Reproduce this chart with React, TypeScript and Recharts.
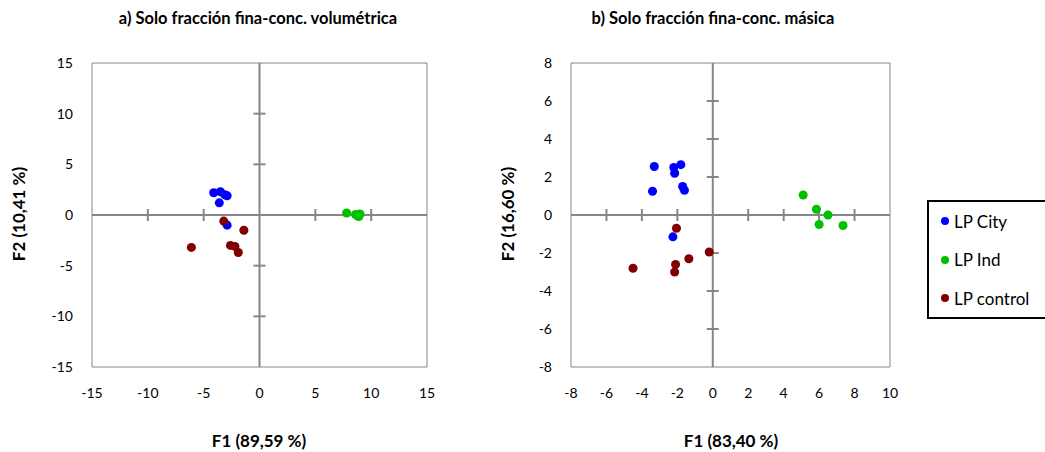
import {
  ReferenceArea,
  ReferenceLine,
  Scatter,
  ScatterChart,
  XAxis,
  YAxis,
  ZAxis,
} from 'recharts'

const FONT = 'Lato, "Liberation Sans", sans-serif'
const AXIS = '#868686'
const COLORS = { city: '#0000ff', ind: '#00c000', control: '#800000' }

// a) volumetric concentration
const cityVol = [
  { x: -4.1, y: 2.2 },
  { x: -3.5, y: 2.3 },
  { x: -3.1, y: 2.0 },
  { x: -2.9, y: 1.9 },
  { x: -3.6, y: 1.2 },
  { x: -2.9, y: -1.0 },
]
const indVol = [
  { x: 7.8, y: 0.2 },
  { x: 8.6, y: 0.05 },
  { x: 8.8, y: -0.1 },
  { x: 9.0, y: 0.1 },
  { x: 8.9, y: -0.15 },
]
const controlVol = [
  { x: -3.2, y: -0.6 },
  { x: -1.4, y: -1.5 },
  { x: -6.1, y: -3.2 },
  { x: -2.6, y: -3.0 },
  { x: -2.2, y: -3.1 },
  { x: -1.9, y: -3.7 },
]

// b) mass concentration
const cityMass = [
  { x: -3.3, y: 2.55 },
  { x: -2.2, y: 2.5 },
  { x: -1.8, y: 2.65 },
  { x: -2.15, y: 2.2 },
  { x: -3.4, y: 1.25 },
  { x: -1.7, y: 1.5 },
  { x: -1.6, y: 1.3 },
  { x: -2.25, y: -1.15 },
]
const indMass = [
  { x: 5.1, y: 1.05 },
  { x: 5.85, y: 0.3 },
  { x: 6.5, y: 0.0 },
  { x: 6.0, y: -0.5 },
  { x: 7.35, y: -0.55 },
]
const controlMass = [
  { x: -2.05, y: -0.7 },
  { x: -0.2, y: -1.95 },
  { x: -1.35, y: -2.3 },
  { x: -4.5, y: -2.8 },
  { x: -2.1, y: -2.6 },
  { x: -2.15, y: -3.0 },
]

const ticksVol = [-15, -10, -5, 0, 5, 10, 15]
const ticksMassX = [-8, -6, -4, -2, 0, 2, 4, 6, 8, 10]
const ticksMassY = [-8, -6, -4, -2, 0, 2, 4, 6, 8]

const legendItems = [
  { label: 'LP City', color: COLORS.city },
  { label: 'LP Ind', color: COLORS.ind },
  { label: 'LP control', color: COLORS.control },
]

const VTick = (p: any) => (
  <line x1={p.cx} x2={p.cx} y1={p.cy - 6} y2={p.cy + 6} stroke={AXIS} strokeWidth={2} />
)
const HTick = (p: any) => (
  <line x1={p.cx - 6} x2={p.cx + 6} y1={p.cy} y2={p.cy} stroke={AXIS} strokeWidth={2} />
)

function Panel(props: {
  left: number
  width: number
  marginLeft: number
  marginRight: number
  xTicks: number[]
  yTicks: number[]
  city: { x: number; y: number }[]
  ind: { x: number; y: number }[]
  control: { x: number; y: number }[]
}) {
  const { xTicks, yTicks } = props
  const xDom = [xTicks[0], xTicks[xTicks.length - 1]]
  const yDom = [yTicks[0], yTicks[yTicks.length - 1]]
  const xMarks = xTicks.filter((t, i) => t !== 0 && i > 0 && i < xTicks.length - 1).map((t) => ({ x: t, y: 0 }))
  const yMarks = yTicks.filter((t, i) => t !== 0 && i > 0 && i < yTicks.length - 1).map((t) => ({ x: 0, y: t }))
  const tick = { fill: '#000', fontSize: 14, fontFamily: FONT }
  return (
    <div style={{ position: 'absolute', left: props.left, top: 0 }}>
      <ScatterChart
        width={props.width}
        height={452}
        margin={{ top: 63, right: props.marginRight, bottom: 0, left: props.marginLeft }}
      >
        <XAxis
          type="number"
          dataKey="x"
          domain={xDom}
          ticks={xTicks}
          interval={0}
          axisLine={false}
          tickLine={false}
          tickSize={0}
          tickMargin={21}
          height={85}
          tick={tick}
        />
        <YAxis
          type="number"
          dataKey="y"
          domain={yDom}
          ticks={yTicks}
          interval={0}
          axisLine={false}
          tickLine={false}
          tickSize={0}
          tickMargin={19}
          width={80}
          tick={tick}
        />
        <ZAxis range={[64, 64]} />
        <ReferenceArea x1={xDom[0]} x2={xDom[1]} y1={yDom[0]} y2={yDom[1]} fill="none" stroke={AXIS} strokeWidth={1} />
        <ReferenceLine x={0} stroke={AXIS} strokeWidth={2} />
        <ReferenceLine y={0} stroke={AXIS} strokeWidth={2} />
        <Scatter data={xMarks} shape={VTick} isAnimationActive={false} />
        <Scatter data={yMarks} shape={HTick} isAnimationActive={false} />
        <Scatter data={props.city} fill={COLORS.city} isAnimationActive={false} />
        <Scatter data={props.ind} fill={COLORS.ind} isAnimationActive={false} />
        <Scatter data={props.control} fill={COLORS.control} isAnimationActive={false} />
      </ScatterChart>
    </div>
  )
}

const bold = { position: 'absolute' as const, fontFamily: FONT, fontWeight: 700, color: '#000', whiteSpace: 'nowrap' as const }

function Centered({ x, y, size, text, rotate }: { x: number; y: number; size: number; text: string; rotate?: boolean }) {
  return (
    <div
      style={{
        ...bold,
        left: x,
        top: y,
        fontSize: size,
        lineHeight: 1,
        transform: `translate(-50%, -50%)${rotate ? ' rotate(-90deg)' : ''}`,
      }}
    >
      {text}
    </div>
  )
}

export default function App() {
  return (
    <div style={{ position: 'absolute', left: 0, top: 0, width: 1045, height: 452, background: '#fff', overflow: 'hidden' }}>
      <Panel
        left={0}
        width={460}
        marginLeft={12}
        marginRight={33}
        xTicks={ticksVol}
        yTicks={ticksVol}
        city={cityVol}
        ind={indVol}
        control={controlVol}
      />
      <Panel
        left={480}
        width={440}
        marginLeft={11}
        marginRight={30}
        xTicks={ticksMassX}
        yTicks={ticksMassY}
        city={cityMass}
        ind={indMass}
        control={controlMass}
      />
      <Centered x={258} y={18} size={16.5} text="a) Solo fracción fina-conc. volumétrica" />
      <Centered x={713} y={18} size={16.5} text="b) Solo fracción fina-conc. másica" />
      <Centered x={259} y={440} size={17} text="F1 (89,59 %)" />
      <Centered x={731} y={440} size={17} text="F1 (83,40 %)" />
      <Centered x={18} y={214} size={17} text="F2 (10,41 %)" rotate />
      <Centered x={507} y={214} size={17} text="F2 (16,60 %)" rotate />
      <div
        style={{
          position: 'absolute',
          left: 927,
          top: 200,
          width: 130,
          height: 115,
          border: '2px solid #000',
          fontFamily: FONT,
          fontSize: 17,
        }}
      >
        {legendItems.map((it, i) => (
          <div key={it.label} style={{ position: 'absolute', left: 12, top: 9 + i * 38.5, display: 'flex', alignItems: 'center', height: 20 }}>
            <span style={{ width: 8, height: 8, borderRadius: 4, background: it.color, marginRight: 5 }} />
            <span>{it.label}</span>
          </div>
        ))}
      </div>
    </div>
  )
}
